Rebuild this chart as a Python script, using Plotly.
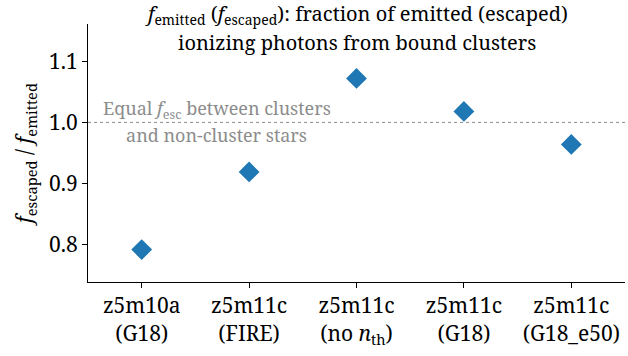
import plotly.graph_objects as go

# Simulation runs and the ratio of escaped to emitted fractions for bound clusters
run_names = ["z5m10a", "z5m11c", "z5m11c", "z5m11c", "z5m11c"]
run_variants = ["(G18)", "(FIRE)", "(no <i>n</i><sub>th</sub>)", "(G18)", "(G18_e50)"]
ratio_values = [0.792, 0.919, 1.072, 1.018, 0.964]
y_ticks = [0.8, 0.9, 1.0, 1.1]

tick_text = [f"{n}<br>{v}" for n, v in zip(run_names, run_variants)]
x_pos = list(range(len(ratio_values)))

FONT = "Noto Serif"
GRAY = "#8c8c8c"

fig = go.Figure()

fig.add_trace(go.Scatter(
    x=x_pos, y=ratio_values, mode="markers",
    marker=dict(symbol="diamond", size=16, color="#1f77b4", line=dict(width=0)),
    showlegend=False, hoverinfo="skip",
))

# reference line: equal escape fraction
fig.add_shape(type="line", xref="paper", yref="y", x0=0, x1=1, y0=1.0, y1=1.0,
              line=dict(color=GRAY, width=1, dash="dot"), layer="below")

# label straddling the reference line
fig.add_annotation(
    x=0.70, y=1.0, xref="x", yref="y", yshift=13,
    text="Equal <i>f</i><sub>esc</sub> between clusters",
    showarrow=False, font=dict(family=FONT, size=18, color=GRAY),
)
fig.add_annotation(
    x=0.70, y=1.0, xref="x", yref="y", yshift=-13,
    text="and non-cluster stars",
    showarrow=False, font=dict(family=FONT, size=18, color=GRAY),
)

# title, one annotation per line
fig.add_annotation(
    x=0.5, y=1.035, xref="paper", yref="paper", xanchor="center", yanchor="middle",
    text="<i>f</i><sub>emitted</sub> (<i>f</i><sub>escaped</sub>): fraction of emitted (escaped)",
    showarrow=False, font=dict(family=FONT, size=20, color="black"),
)
fig.add_annotation(
    x=0.5, y=0.93, xref="paper", yref="paper", xanchor="center", yanchor="middle",
    text="ionizing photons from bound clusters",
    showarrow=False, font=dict(family=FONT, size=20, color="black"),
)

fig.update_layout(
    width=628, height=356,
    margin=dict(l=88, r=3, t=24, b=74),
    paper_bgcolor="white", plot_bgcolor="white",
    font=dict(family=FONT, size=21, color="black"),
    xaxis=dict(
        range=[-0.5, 4.5], tickmode="array", tickvals=x_pos, ticktext=tick_text,
        showgrid=False, zeroline=False, showline=True, linecolor="black", linewidth=1.2,
        ticks="outside", ticklen=5, tickwidth=1, tickcolor="black",
        tickfont=dict(family=FONT, size=21),
    ),
    yaxis=dict(
        range=[0.739, 1.161], tickmode="array", tickvals=y_ticks,
        ticktext=[f"{t:.1f}" for t in y_ticks],
        showgrid=False, zeroline=False, showline=True, linecolor="black", linewidth=1.2,
        ticks="outside", ticklen=5, tickwidth=1, tickcolor="black",
        tickfont=dict(family=FONT, size=21),
        title=dict(text="<i>f</i><sub>escaped</sub> / <i>f</i><sub>emitted</sub>",
                   font=dict(family=FONT, size=21), standoff=10),
    ),
)

fig.write_html("out.html")
